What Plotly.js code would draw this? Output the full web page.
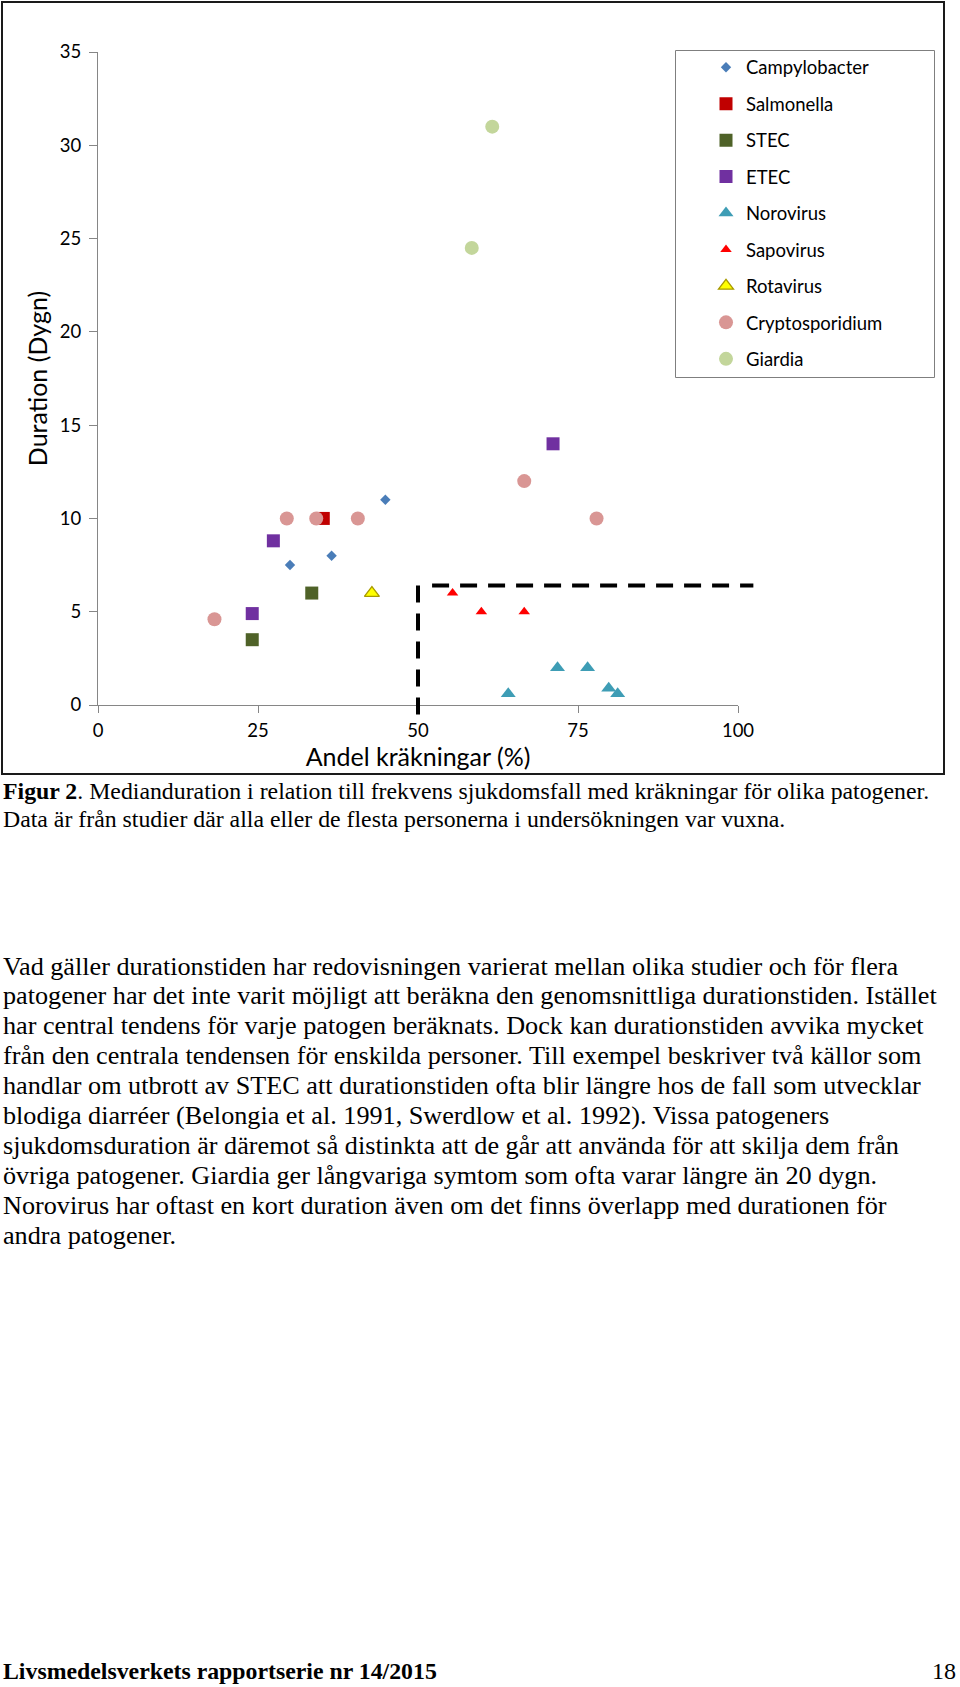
<!DOCTYPE html>
<html><head><meta charset="utf-8">
<script src="https://cdn.plot.ly/plotly-3.0.1.min.js"></script>
<style>html,body{margin:0;padding:0;background:#fff;}#chart{width:960px;height:1687px;}</style>
</head><body><div id="chart"></div>
<script>
// ---- data ----
const seriesNames = ["Campylobacter","Salmonella","STEC","ETEC","Norovirus","Sapovirus","Rotavirus","Cryptosporidium","Giardia"];
const campyX = [30.0, 36.5, 44.9];           const campyY = [7.5, 8.0, 11.0];
const salmX  = [35.2];                       const salmY  = [10.0];
const stecX  = [33.4, 24.1];                 const stecY  = [6.0, 3.5];
const etecX  = [27.4, 24.1, 71.1];           const etecY  = [8.8, 4.9, 14.0];
const noroX  = [64.1, 71.8, 76.5, 79.8, 81.2]; const noroY = [0.6, 2.0, 2.0, 0.9, 0.6];
const sapoX  = [55.4, 59.9, 66.6];           const sapoY  = [6.0, 5.0, 5.0];
const rotaX  = [42.8];                       const rotaY  = [6.0];
const cryptoX = [18.2, 29.5, 34.1, 40.6, 66.6, 77.9]; const cryptoY = [4.6, 10.0, 10.0, 10.0, 12.0, 10.0];
const giardiaX = [58.4, 61.6];               const giardiaY = [24.5, 31.0];
const xTickVals = [0, 25, 50, 75, 100];
const yTickVals = [0, 5, 10, 15, 20, 25, 30, 35];
// dashed cut-off lines
const cutX = 50, cutY = 6.4, cutBottomY = -0.55, hLineStartX = 52.2, hLineEndX = 102.4;

const captionLines = [
  "<b>Figur 2</b>. Medianduration i relation till frekvens sjukdomsfall med kräkningar för olika patogener.",
  "Data är från studier där alla eller de flesta personerna i undersökningen var vuxna."
];
const bodyLines = [
  "Vad gäller durationstiden har redovisningen varierat mellan olika studier och för flera",
  "patogener har det inte varit möjligt att beräkna den genomsnittliga durationstiden. Istället",
  "har central tendens för varje patogen beräknats. Dock kan durationstiden avvika mycket",
  "från den centrala tendensen för enskilda personer. Till exempel beskriver två källor som",
  "handlar om utbrott av STEC att durationstiden ofta blir längre hos de fall som utvecklar",
  "blodiga diarréer (Belongia et al. 1991, Swerdlow et al. 1992). Vissa patogeners",
  "sjukdomsduration är däremot så distinkta att de går att använda för att skilja dem från",
  "övriga patogener. Giardia ger långvariga symtom som ofta varar längre än 20 dygn.",
  "Norovirus har oftast en kort duration även om det finns överlapp med durationen för",
  "andra patogener."
];
const footerLeft = "<b>Livsmedelsverkets rapportserie nr 14/2015</b>";
const footerRight = "18";

// ---- layout geometry ----
const W = 960, H = 1687, ML = 98, MT = 52, PW = 640, PH = 653;
const XR = [0, 100], YR = [0, 35];
const px2x = px => (px - ML) / PW;
const px2y = py => 1 - (py - MT) / PH;
const dx = v => (v - XR[0]) / (XR[1] - XR[0]);
const dy = v => (v - YR[0]) / (YR[1] - YR[0]);

const LATO = "Lato, 'Open Sans', sans-serif";
const SERIF = "'Liberation Serif', 'Times New Roman', serif";

function tr(name, x, y, marker, group) {
  return {type: "scatter", mode: "markers", name: name, x: x, y: y, marker: marker,
          legendgroup: group, cliponaxis: false, hoverinfo: "x+y+name"};
}
const traces = [
  tr(seriesNames[0], campyX, campyY, {symbol: "diamond", size: 8, color: "#4A7DB8"}, "g1"),
  tr(seriesNames[1], salmX, salmY, {symbol: "square", size: 13, color: "#C00000"}, "g2"),
  tr(seriesNames[2], stecX, stecY, {symbol: "square", size: 13, color: "#4F6228"}, "g3"),
  tr(seriesNames[3], etecX, etecY, {symbol: "square", size: 13, color: "#7030A0"}, "g4"),
  tr(seriesNames[4], noroX, noroY, {symbol: "triangle-up", size: 13, color: "#3E9DB5"}, "g5"),
  tr(seriesNames[5], sapoX, sapoY, {symbol: "triangle-up", size: 10, color: "#FF0000"}, "g6"),
  tr(seriesNames[6], rotaX, rotaY, {symbol: "triangle-up", size: 13, color: "#FFFF00", line: {color: "#A89A00", width: 1.3}}, "g7"),
  tr(seriesNames[7], cryptoX, cryptoY, {symbol: "circle", size: 14, color: "#D99694"}, "g8"),
  tr(seriesNames[8], giardiaX, giardiaY, {symbol: "circle", size: 14, color: "#C3D69B"}, "g9")
];

const axisCommon = {
  showgrid: false, zeroline: false, showline: true, linecolor: "#868686", linewidth: 1,
  ticks: "outside", tickcolor: "#868686", tickwidth: 1, tickmode: "array",
  tickfont: {family: LATO, size: 18.5, color: "#000"}, fixedrange: true
};

const annotations = [];
captionLines.forEach((t, i) => annotations.push({
  xref: "paper", yref: "paper", x: px2x(1), y: px2y(791 + i * 27.6), xanchor: "left", yanchor: "middle",
  text: t, showarrow: false, align: "left", font: {family: SERIF, size: 23.8, color: "#000"}
}));
bodyLines.forEach((t, i) => annotations.push({
  xref: "paper", yref: "paper", x: px2x(1), y: px2y(966 + i * 29.9), xanchor: "left", yanchor: "middle",
  text: t, showarrow: false, align: "left", font: {family: SERIF, size: 26.2, color: "#000"}
}));
annotations.push({xref: "paper", yref: "paper", x: px2x(1), y: px2y(1671), xanchor: "left", yanchor: "middle",
  text: footerLeft, showarrow: false, font: {family: SERIF, size: 23.8, color: "#000"}});
annotations.push({xref: "paper", yref: "paper", x: px2x(958), y: px2y(1671), xanchor: "right", yanchor: "middle",
  text: footerRight, showarrow: false, font: {family: SERIF, size: 24, color: "#000"}});

const dashStyle = {color: "#000", width: 4, dash: "17px,11px"};
const shapes = [
  // chart frame
  {type: "rect", xref: "paper", yref: "paper", x0: px2x(2), x1: px2x(944), y0: px2y(774), y1: px2y(2),
   line: {color: "#1a1a1a", width: 2}, fillcolor: "rgba(0,0,0,0)", layer: "below"},
  // legend box
  {type: "rect", xref: "paper", yref: "paper", x0: px2x(675.5), x1: px2x(934.5), y0: px2y(377.5), y1: px2y(50.5),
   line: {color: "#7f7f7f", width: 1}, fillcolor: "rgba(0,0,0,0)", layer: "below"},
  // dashed cut-off lines
  {type: "line", xref: "x domain", yref: "y domain", x0: dx(cutX), x1: dx(cutX), y0: dy(cutY), y1: dy(cutBottomY), line: dashStyle},
  {type: "line", xref: "x domain", yref: "y domain", x0: dx(hLineStartX), x1: dx(hLineEndX), y0: dy(cutY), y1: dy(cutY), line: dashStyle}
];

const layout = {
  width: W, height: H, paper_bgcolor: "#fff", plot_bgcolor: "rgba(0,0,0,0)",
  margin: {l: ML, r: W - ML - PW, t: MT, b: H - MT - PH, pad: 0},
  showlegend: true,
  legend: {x: px2x(706), y: px2y(48.7), xanchor: "left", yanchor: "top", bgcolor: "rgba(0,0,0,0)",
           borderwidth: 0, font: {family: LATO, size: 18.5, color: "#000"}, tracegroupgap: 9.4,
           itemclick: false, itemdoubleclick: false},
  xaxis: Object.assign({}, axisCommon, {range: XR, tickvals: xTickVals, ticklen: 7, ticklabelstandoff: 2,
          title: {text: "Andel kräkningar (%)", font: {family: LATO, size: 25, color: "#000"}, standoff: 0}}),
  xaxis2: {overlaying: "x", anchor: "y", side: "bottom", range: XR, tickmode: "array", tickvals: xTickVals,
           ticks: "inside", ticklen: 7, tickcolor: "#868686", tickwidth: 1, showticklabels: false,
           showline: false, showgrid: false, zeroline: false, fixedrange: true},
  yaxis: Object.assign({}, axisCommon, {range: YR, tickvals: yTickVals, ticklen: 8, ticklabelstandoff: 4,
          title: {text: "Duration (Dygn)", font: {family: LATO, size: 25, color: "#000"}, standoff: 5}}),
  shapes: shapes,
  annotations: annotations
};

Plotly.newPlot("chart", traces, layout, {displayModeBar: false, staticPlot: false, responsive: false});
</script>
</body></html>
